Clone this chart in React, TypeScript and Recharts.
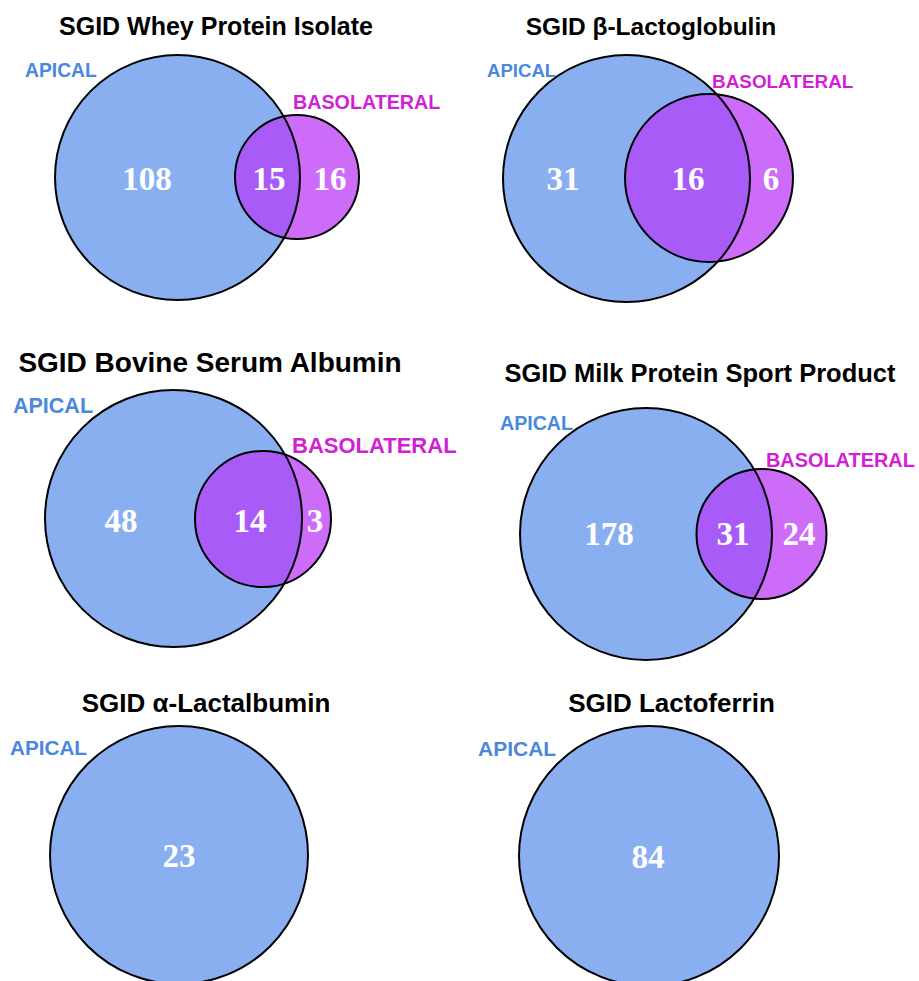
import { ScatterChart, Scatter, XAxis, YAxis } from "recharts"

const panelTitles = [
  "SGID Whey Protein Isolate",
  "SGID β-Lactoglobulin",
  "SGID Bovine Serum Albumin",
  "SGID Milk Protein Sport Product",
  "SGID α-Lactalbumin",
  "SGID Lactoferrin",
]
const apicalOnly = [108, 31, 48, 178, 23, 84]
const sharedCounts: (number | null)[] = [15, 16, 14, 31, null, null]
const basolateralOnly: (number | null)[] = [16, 6, 3, 24, null, null]
const apicalName = "APICAL"
const basolateralName = "BASOLATERAL"

const W = 919
const H = 981

// circle layout for each panel, in frame pixels
const apicalCircle = [
  { x: 177.5, y: 177.5, r: 122.5 },
  { x: 626.5, y: 178.5, r: 123.5 },
  { x: 173.5, y: 518.5, r: 128.5 },
  { x: 646, y: 534, r: 126 },
  { x: 179, y: 855, r: 129 },
  { x: 649, y: 856, r: 130 },
]
const basoCircle = [
  { x: 297, y: 177, r: 62 },
  { x: 709, y: 178, r: 84 },
  { x: 263, y: 519, r: 68 },
  { x: 761.5, y: 534, r: 65 },
  null,
  null,
]

// where the counts sit: [apical only, shared, basolateral only]
const countPos = [
  [{ x: 147, y: 178 }, { x: 269, y: 178 }, { x: 330, y: 178 }],
  [{ x: 563, y: 178 }, { x: 688, y: 178 }, { x: 771, y: 178 }],
  [{ x: 121, y: 520 }, { x: 250, y: 520 }, { x: 315, y: 520 }],
  [{ x: 609, y: 533 }, { x: 733, y: 533 }, { x: 799, y: 533 }],
  [{ x: 179, y: 855 }],
  [{ x: 648, y: 856 }],
]

const titlePos = [
  { x: 216, y: 35, size: 25 },
  { x: 651, y: 35, size: 24.5 },
  { x: 210, y: 372, size: 28 },
  { x: 700, y: 382, size: 25.5 },
  { x: 206, y: 712, size: 26 },
  { x: 671.5, y: 712, size: 26 },
]
const apicalLabelPos = [
  { x: 25, y: 77, size: 19.3 },
  { x: 487, y: 77, size: 18.6 },
  { x: 13, y: 413, size: 21.5 },
  { x: 500, y: 430, size: 19.6 },
  { x: 10, y: 755, size: 20.7 },
  { x: 478, y: 756, size: 21 },
]
const basoLabelPos = [
  { x: 293, y: 109, size: 19.7 },
  { x: 712, y: 88, size: 18.9 },
  { x: 292, y: 453, size: 22 },
  { x: 766, y: 467, size: 19.9 },
  null,
  null,
]

const APICAL_FILL = "#8aaff0"
const BASO_FILL = "#cc6cf8"
const OVERLAP_FILL = "#a95bf7"
const APICAL_TEXT = "#4a88dc"
const BASO_TEXT = "#d21fd6"
const SANS = "'Liberation Sans', Arial, sans-serif"
const SERIF = "'Liberation Serif', 'Times New Roman', serif"

const apicalData = apicalCircle.map((c, i) => ({ ...c, i }))
const basoData = basoCircle
  .map((c, i) => (c ? { ...c, i } : null))
  .filter((d): d is { x: number; y: number; r: number; i: number } => d !== null)
const overlapData = apicalData.filter((d) => basoCircle[d.i] !== null)
const outlineData = [...apicalData, ...basoData]

const countData = panelTitles.flatMap((_, i) => {
  const vals = [apicalOnly[i], sharedCounts[i], basolateralOnly[i]]
  return countPos[i].map((p, k) => ({ ...p, value: vals[k] }))
})
const titleData = panelTitles.map((t, i) => ({ ...titlePos[i], text: t }))
const apicalLabelData = apicalLabelPos.map((p) => ({ ...p, text: apicalName }))
const basoLabelData = basoLabelPos
  .filter((p): p is { x: number; y: number; size: number } => p !== null)
  .map((p) => ({ ...p, text: basolateralName }))

const FillCircle = (fill: string) => (props: any) => (
  <circle cx={props.cx} cy={props.cy} r={props.payload.r} fill={fill} />
)

const BasoShape = (props: any) => (
  <g>
    <defs>
      <clipPath id={`baso-clip-${props.payload.i}`}>
        <circle cx={props.cx} cy={props.cy} r={props.payload.r} />
      </clipPath>
    </defs>
    <circle cx={props.cx} cy={props.cy} r={props.payload.r} fill={BASO_FILL} />
  </g>
)

const OverlapShape = (props: any) => (
  <circle
    cx={props.cx}
    cy={props.cy}
    r={props.payload.r}
    fill={OVERLAP_FILL}
    clipPath={`url(#baso-clip-${props.payload.i})`}
  />
)

const OutlineShape = (props: any) => (
  <circle cx={props.cx} cy={props.cy} r={props.payload.r} fill="none" stroke="#000" strokeWidth={2} />
)

const CountShape = (props: any) => (
  <text
    x={props.cx}
    y={props.cy + 11.5}
    textAnchor="middle"
    fill="#fff"
    fontFamily={SERIF}
    fontWeight="bold"
    fontSize={33}
  >
    {props.payload.value}
  </text>
)

const TitleShape = (props: any) => (
  <text
    x={props.cx}
    y={props.cy}
    textAnchor="middle"
    fill="#000"
    fontFamily={SANS}
    fontWeight="bold"
    fontSize={props.payload.size}
  >
    {props.payload.text}
  </text>
)

const SetLabel = (color: string) => (props: any) => (
  <text x={props.cx} y={props.cy} fill={color} fontFamily={SANS} fontWeight="bold" fontSize={props.payload.size}>
    {props.payload.text}
  </text>
)

export default function App() {
  return (
    <div style={{ width: W, height: H, background: "#fff" }}>
      <style>{"body{margin:0}"}</style>
      <ScatterChart width={W} height={H} margin={{ top: 0, right: 0, bottom: 0, left: 0 }}>
        <XAxis type="number" dataKey="x" domain={[0, W]} hide />
        <YAxis type="number" dataKey="y" domain={[0, H]} reversed hide />
        <Scatter data={apicalData} shape={FillCircle(APICAL_FILL)} isAnimationActive={false} />
        <Scatter data={basoData} shape={BasoShape} isAnimationActive={false} />
        <Scatter data={overlapData} shape={OverlapShape} isAnimationActive={false} />
        <Scatter data={outlineData} shape={OutlineShape} isAnimationActive={false} />
        <Scatter data={countData} shape={CountShape} isAnimationActive={false} />
        <Scatter data={titleData} shape={TitleShape} isAnimationActive={false} />
        <Scatter data={apicalLabelData} shape={SetLabel(APICAL_TEXT)} isAnimationActive={false} />
        <Scatter data={basoLabelData} shape={SetLabel(BASO_TEXT)} isAnimationActive={false} />
      </ScatterChart>
    </div>
  )
}
